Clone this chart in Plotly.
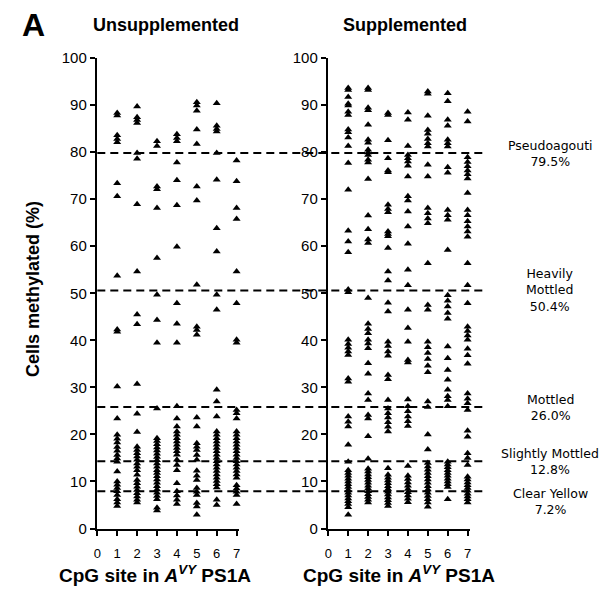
import plotly.graph_objects as go

# ---------------- data ----------------
sites = [1, 2, 3, 4, 5, 6, 7]

unsup_site1 = [88.3, 87.8, 83.6, 82.8, 82.1, 73.4, 70.6, 53.7, 42.3, 41.8, 30.2, 23.4,
               19.9, 19.1, 18.3, 17.3, 16.5, 15.6, 14.9, 14.2, 12.1, 10.0, 9.3, 8.6,
               7.9, 7.1, 6.2, 5.5, 4.8]
unsup_site2 = [89.7, 87.4, 86.8, 86.2, 79.8, 78.6, 68.9, 54.6, 45.5, 43.4, 30.7, 24.4,
               20.5, 17.4, 16.7, 16.0, 15.3, 14.6, 13.8, 13.1, 12.4, 11.4, 10.3, 9.6,
               8.9, 8.2, 7.5, 6.8, 6.1, 5.5]
unsup_site3 = [82.3, 81.3, 72.7, 72.1, 68.1, 57.5, 49.7, 44.3, 39.5, 25.5, 19.2, 18.6,
               17.9, 17.2, 16.6, 15.9, 15.2, 14.5, 13.8, 13.1, 12.4, 11.8, 11.1, 10.4,
               9.7, 9.0, 8.3, 7.6, 6.9, 6.2, 4.4, 3.8]
unsup_site4 = [83.8, 83.0, 82.3, 77.8, 74.0, 68.7, 59.9, 47.9, 43.5, 39.5, 26.0, 23.4,
               21.7, 20.6, 19.9, 19.2, 18.5, 17.8, 17.1, 16.4, 15.7, 14.6, 13.5, 12.4,
               9.6, 7.9, 7.0, 6.1, 5.2]
unsup_site5 = [90.6, 89.9, 88.8, 84.8, 81.7, 72.7, 69.7, 51.8, 42.9, 42.2, 41.2, 23.6,
               21.7, 18.1, 17.4, 16.7, 15.6, 14.6, 12.3, 11.2, 10.3, 8.6, 7.8, 7.1,
               5.4, 4.7, 2.9]
unsup_site6 = [90.4, 85.6, 84.9, 84.4, 79.8, 74.1, 63.8, 58.9, 49.7, 46.5, 29.5, 27.0,
               23.8, 20.6, 19.9, 19.2, 18.5, 17.8, 17.1, 16.4, 15.7, 15.0, 14.3, 13.6,
               12.9, 12.2, 11.5, 10.8, 10.1, 9.4, 8.7, 6.1, 5.0]
unsup_site7 = [78.2, 73.8, 68.1, 65.8, 54.6, 47.9, 40.1, 39.5, 25.2, 24.5, 23.4, 20.6,
               19.9, 19.2, 18.5, 17.8, 17.1, 16.4, 15.7, 15.0, 14.3, 13.6, 12.9, 12.2,
               11.5, 10.8, 9.2, 8.5, 7.8, 7.1, 5.2]

sup_site1 = [93.6, 93.2, 91.7, 90.3, 89.9, 88.6, 87.9, 84.8, 84.2, 83.1, 81.3, 77.7,
             72.0, 63.3, 61.0, 58.7, 50.8, 50.2, 40.1, 39.2, 38.4, 37.6, 36.9, 31.9,
             31.2, 23.8, 22.7, 21.7, 17.8, 14.2, 12.4, 11.8, 11.2, 10.6, 10.0, 9.4,
             8.8, 8.2, 7.6, 7.0, 6.4, 5.8, 5.2, 4.5, 2.9]
sup_site2 = [93.6, 93.2, 89.4, 88.9, 85.8, 82.6, 82.0, 80.5, 79.9, 79.4, 78.4, 77.8,
             74.3, 66.5, 63.6, 61.4, 60.7, 49.0, 43.5, 42.4, 41.5, 40.1, 39.3, 38.3,
             35.1, 32.9, 28.7, 27.3, 24.1, 23.4, 19.6, 14.8, 12.7, 12.1, 11.5, 10.9,
             10.3, 9.7, 9.1, 8.5, 7.9, 7.3, 6.7, 6.1, 5.5]
sup_site3 = [88.3, 87.9, 82.5, 78.7, 76.1, 75.7, 68.8, 67.9, 67.2, 63.1, 62.6, 62.1,
             59.6, 54.6, 52.7, 48.0, 46.1, 39.7, 38.8, 37.6, 36.7, 32.6, 31.7, 27.3,
             25.5, 24.5, 23.6, 22.6, 21.6, 20.6, 12.8, 11.4, 10.8, 10.2, 9.6, 9.0,
             8.4, 7.8, 7.2, 6.6, 6.0, 5.4, 4.8]
sup_site4 = [88.4, 86.9, 81.3, 79.4, 78.7, 78.0, 77.1, 74.8, 70.6, 69.7, 67.4, 64.2,
             60.5, 55.0, 51.7, 46.5, 42.6, 39.7, 35.8, 35.3, 27.4, 26.0, 24.9, 23.8,
             22.8, 21.8, 13.3, 11.2, 10.5, 9.8, 9.1, 8.4, 7.7, 7.0, 6.3, 5.6]
sup_site5 = [92.9, 92.4, 87.7, 84.7, 83.9, 82.8, 81.9, 81.2, 77.3, 74.8, 68.1, 67.0,
             65.9, 64.9, 56.4, 47.5, 46.5, 39.7, 38.5, 37.3, 36.0, 34.6, 33.2, 27.0,
             25.8, 20.0, 16.8, 13.9, 13.2, 12.5, 11.8, 11.1, 10.4, 9.7, 9.0, 8.3,
             7.6, 6.9, 6.2, 5.5, 4.6]
sup_site6 = [92.5, 90.8, 86.9, 85.6, 82.6, 81.9, 81.2, 76.8, 75.6, 67.7, 66.6, 65.6,
             59.2, 49.6, 48.4, 47.2, 45.8, 44.6, 38.7, 36.2, 33.7, 31.6, 29.5, 28.1,
             27.3, 26.0, 14.2, 13.6, 13.0, 12.4, 11.8, 11.2, 10.6, 10.0, 9.4, 8.8, 6.2]
sup_site7 = [88.6, 86.5, 78.9, 77.9, 77.0, 76.1, 75.3, 74.4, 71.3, 67.7, 66.6, 65.3,
             64.2, 63.1, 62.0, 56.4, 51.7, 47.9, 42.9, 42.0, 41.0, 40.1, 38.2, 36.8,
             35.0, 28.7, 27.6, 26.6, 25.2, 20.8, 19.5, 16.0, 15.0, 13.5, 11.0, 10.4,
             9.8, 9.2, 8.6, 8.0, 7.4, 6.8, 6.2, 5.5]

unsup_columns = [unsup_site1, unsup_site2, unsup_site3, unsup_site4,
                 unsup_site5, unsup_site6, unsup_site7]
sup_columns = [sup_site1, sup_site2, sup_site3, sup_site4,
               sup_site5, sup_site6, sup_site7]

class_names = ["Pseudoagouti", "Heavily<br>Mottled", "Mottled",
               "Slightly Mottled", "Clear Yellow"]
class_pct = ["79.5%", "50.4%", "26.0%", "12.8%", "7.2%"]
class_line_y = [79.8, 50.6, 25.8, 14.3, 7.9]

x_ticks = [0, 1, 2, 3, 4, 5, 6, 7]
y_ticks = [0, 10, 20, 30, 40, 50, 60, 70, 80, 90, 100]

# ---------------- figure ----------------
W, H = 613, 592
FONT = "Liberation Sans, Arial, Helvetica, sans-serif"

def flat(columns):
    xs, ys = [], []
    for s, col in zip(sites, columns):
        xs += [s] * len(col)
        ys += col
    return xs, ys

fig = go.Figure()
ux, uy = flat(unsup_columns)
sx, sy = flat(sup_columns)
marker = dict(symbol="triangle-up", size=7, color="black")
fig.add_trace(go.Scatter(x=ux, y=uy, mode="markers", marker=marker,
                         xaxis="x", yaxis="y", cliponaxis=False, showlegend=False))
fig.add_trace(go.Scatter(x=sx, y=sy, mode="markers", marker=marker,
                         xaxis="x2", yaxis="y2", cliponaxis=False, showlegend=False))

xcommon = dict(range=[0, 7.12], tickvals=x_ticks, ticks="outside", ticklen=5,
               tickwidth=2, tickcolor="black", showline=True, linewidth=2.5,
               linecolor="black", showgrid=False, zeroline=False, automargin=False,
               tickfont=dict(family=FONT, size=13, color="black"),
               ticklabelstandoff=6)
ycommon = dict(range=[0, 100], tickvals=y_ticks, ticks="outside", ticklen=5,
               tickwidth=2, tickcolor="black", showline=True, linewidth=2.5,
               linecolor="black", showgrid=False, zeroline=False, automargin=False,
               tickfont=dict(family=FONT, size=15, color="black"),
               domain=[(H - 528.5) / H, (H - 58.0) / H])

fig.update_layout(
    template="none",
    width=W, height=H, margin=dict(l=0, r=0, t=0, b=0, pad=0, autoexpand=False),
    paper_bgcolor="white", plot_bgcolor="white", showlegend=False,
    xaxis=dict(domain=[97.3 / W, 239.0 / W], anchor="y", **xcommon),
    yaxis=dict(anchor="x", **ycommon),
    xaxis2=dict(domain=[328.3 / W, 470.0 / W], anchor="y2", **xcommon),
    yaxis2=dict(anchor="x2", **ycommon),
)

# dashed class boundaries
for yv in class_line_y:
    fig.add_shape(type="line", xref="paper", yref="y",
                  x0=97.3 / W, x1=483 / W, y0=yv, y1=yv,
                  line=dict(color="black", width=2, dash="8px,5px"), layer="above")

# class labels
for i, (nm, pct, yv) in enumerate(zip(class_names, class_pct, class_line_y)):
    fig.add_annotation(xref="paper", yref="y", x=550 / W, y=yv,
                       text=nm + "<br>" + pct, showarrow=False, align="center",
                       xanchor="center", yanchor="middle",
                       yshift=-10 if i == 4 else 0,
                       font=dict(family="DejaVu Sans, sans-serif", size=12.5, color="black"))

# titles
ann_font = dict(family=FONT, size=18, color="black")
fig.add_annotation(xref="paper", yref="paper", x=166 / W, y=(H - 25) / H,
                   text="<b>Unsupplemented</b>", showarrow=False,
                   xanchor="center", yanchor="middle", font=ann_font)
fig.add_annotation(xref="paper", yref="paper", x=405 / W, y=(H - 25) / H,
                   text="<b>Supplemented</b>", showarrow=False,
                   xanchor="center", yanchor="middle", font=ann_font)
fig.add_annotation(xref="paper", yref="paper", x=33 / W, y=(H - 25) / H,
                   text="<b>A</b>", showarrow=False,
                   xanchor="center", yanchor="middle",
                   font=dict(family=FONT, size=32, color="black"))
fig.add_annotation(xref="paper", yref="paper", x=33 / W, y=(H - 289) / H,
                   text="<b>Cells methylated (%)</b>", showarrow=False, textangle=-90,
                   xanchor="center", yanchor="middle", font=ann_font)
xt = "<b>CpG site in <i>A</i><sup><i>VY</i></sup> PS1A</b>"
fig.add_annotation(xref="paper", yref="paper", x=155 / W, y=(H - 574) / H,
                   text=xt, showarrow=False, xanchor="center", yanchor="middle",
                   font=dict(family=FONT, size=19, color="black"))
fig.add_annotation(xref="paper", yref="paper", x=399 / W, y=(H - 574) / H,
                   text=xt, showarrow=False, xanchor="center", yanchor="middle",
                   font=dict(family=FONT, size=19, color="black"))

fig.write_html("out.html",
               config={"displayModeBar": False, "staticPlot": True},
               post_script="document.body.style.margin='0px';"
                           "document.body.style.padding='0px';")
